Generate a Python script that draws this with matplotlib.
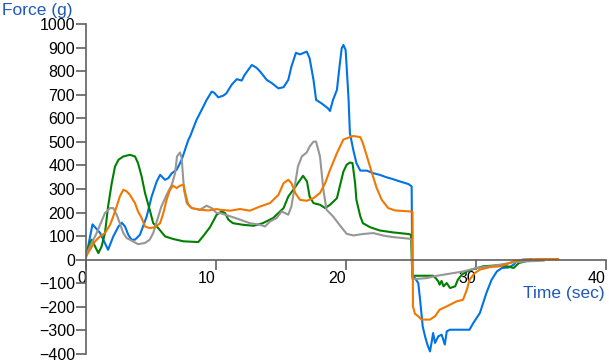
import matplotlib
matplotlib.use('Agg')
import matplotlib.pyplot as plt

plt.rcParams['font.family'] = ['Liberation Sans', 'DejaVu Sans']
plt.rcParams['font.size'] = 11

# trial 1 (blue)
t_blue = [0, 0.5, 1.08, 1.33, 1.7, 2.1, 2.5, 2.75, 3.0, 3.25, 3.5, 3.77, 4.15, 4.67, 5.05,
          5.44, 5.7, 6.08, 6.33, 6.6, 6.97, 7.36, 7.87, 8.0, 8.5, 8.9, 9.28, 9.67, 9.85,
          10.18, 10.56, 10.8, 11.2, 11.6, 11.98, 12.2, 12.75, 13.1, 13.4, 13.9, 14.3, 14.8,
          15.2, 15.56, 15.8, 16.15, 16.46, 16.98, 17.2, 17.5, 17.7, 18.1, 18.6, 18.77, 19.0,
          19.3, 19.5, 19.67, 19.8, 19.97, 20.05, 20.2, 20.3, 20.56, 20.8, 21.1, 21.6, 22.1,
          22.6, 23.1, 23.6, 24.15, 24.8, 25.05, 25.1, 25.3, 25.56, 25.7, 25.9, 26.08, 26.26,
          26.46, 26.6, 26.7, 26.85, 27.1, 27.36, 27.6, 27.75, 28.0, 28.8, 29.5, 29.8, 30.3,
          30.8, 31.2, 31.6, 32.0, 32.5, 32.9, 33.1, 33.6, 34.3]
f_blue = [10, 150, 114, 85, 42, 99, 141, 157, 141, 106, 85, 85, 106, 184, 268,
          332, 360, 339, 346, 367, 381, 424, 508, 522, 593, 636, 678, 713, 709,
          689, 696, 706, 742, 766, 760, 784, 826, 815, 798, 763, 749, 727,
          732, 763, 819, 878, 871, 883, 855, 763, 678, 664, 643, 631, 678,
          720, 819, 897, 911, 890, 819, 678, 537, 466, 410, 378, 378, 367,
          360, 350, 342, 332, 321, 311, -70, -78, -99, -170, -283, -325, -360,
          -389, -346, -311, -353, -325, -318, -360, -304, -297, -297, -297, -268, -226,
          -141, -85, -50, -35, -33, -21, -7, 0, 2]

# trial 2 (green)
t_green = [0, 0.3, 0.44, 0.7, 0.95, 1.2, 1.46, 1.7, 1.98, 2.23, 2.5, 2.87, 3.38, 3.77, 4.0,
           4.28, 4.54, 4.9, 5.17, 5.56, 6.08, 6.7, 7.5, 8.64, 9.0, 9.54, 10.05, 10.44, 10.7,
           10.95, 11.3, 12.1, 12.9, 13.6, 14.4, 15.2, 15.56, 15.95, 16.3, 16.7, 17.0, 17.2,
           17.5, 18.0, 18.4, 18.77, 19.3, 19.8, 20.05, 20.3, 20.5, 20.7, 20.8, 21.1, 21.3,
           21.85, 22.6, 23.6, 24.8, 25.0, 25.1, 26.7, 26.9, 27.1, 27.2, 27.35, 27.5, 27.75,
           28.0, 28.4, 28.6, 28.9, 29.3, 29.8, 30.56, 31.6, 32.4, 32.9, 33.3, 33.8, 34.2]
f_green = [21, 70, 85, 56, 28, 56, 113, 226, 325, 395, 424, 438, 445, 438, 410,
           353, 283, 212, 155, 134, 99, 88, 78, 75, 99, 138, 191, 205, 198,
           170, 155, 148, 144, 155, 177, 219, 268, 297, 325, 356, 332, 268,
           240, 233, 219, 233, 261, 374, 403, 412, 410, 325, 254, 184, 155,
           138, 124, 116, 109, 106, -68, -68, -78, -92, -106, -90, -113, -99,
           -120, -113, -85, -64, -50, -40, -28, -24, -28, -35, -14, -7, 0]

# trial 3 (gray)
t_gray = [0, 0.44, 0.82, 1.08, 1.46, 1.85, 2.1, 2.36, 2.6, 2.87, 3.13, 3.5, 4.0, 4.54, 4.9,
          5.17, 5.44, 5.8, 6.2, 6.6, 6.85, 7.0, 7.23, 7.36, 7.54, 7.75, 8.13, 8.77, 9.28,
          9.67, 10.05, 10.3, 11.1, 11.85, 12.6, 13.4, 13.77, 14.15, 14.67, 15.05, 15.3,
          15.56, 15.8, 16.1, 16.3, 16.6, 16.98, 17.2, 17.5, 17.7, 18.0, 18.26, 18.5, 19.0,
          19.5, 19.8, 20.05, 20.56, 21.3, 22.1, 22.9, 23.6, 24.9, 25.05, 25.1, 25.3, 26.2,
          27.0, 28.0, 29.0, 30.05, 31.1, 31.85, 32.9, 33.9, 35.2]
f_gray = [21, 71, 113, 148, 198, 219, 219, 191, 155, 113, 92, 81, 66, 71, 85,
          113, 162, 226, 275, 318, 367, 438, 455, 431, 297, 240, 219, 212, 229,
          219, 198, 198, 184, 170, 155, 148, 141, 162, 177, 205, 198,
          191, 226, 325, 395, 438, 455, 480, 501, 501, 438, 297, 212, 184,
          148, 127, 110, 103, 109, 113, 102, 96, 89, 85, -80, -82, -78,
          -68, -59, -50, -35, -28, -21, -11, -7, -4]

# trial 4 (orange)
t_orange = [0, 0.3, 0.7, 1.08, 1.46, 1.85, 2.1, 2.36, 2.6, 2.87, 3.13, 3.38, 3.77, 4.0, 4.28,
            4.54, 4.9, 5.3, 5.7, 5.95, 6.2, 6.46, 6.7, 6.97, 7.23, 7.5, 7.7, 7.87, 8.13, 8.77,
            9.4, 10.05, 10.3, 11.1, 11.85, 12.6, 13.4, 14.15, 14.8, 15.2, 15.56, 15.8, 16.1,
            16.46, 16.98, 17.5, 18.0, 18.4, 18.77, 19.3, 19.8, 20.56, 21.1, 21.3, 21.6, 22.0,
            22.36, 22.75, 23.25, 23.77, 24.9, 25.12, 25.15, 25.3, 25.56, 25.8, 26.46, 26.85,
            27.2, 27.75, 28.5, 29.0, 29.3, 29.5, 29.9, 30.3, 31.1, 31.85, 32.4, 32.9, 33.6,
            34.7, 36.3]
f_orange = [14, 42, 78, 99, 113, 148, 184, 226, 268, 297, 290, 275, 240, 205, 177,
            141, 134, 138, 155, 198, 254, 297, 314, 304, 314, 318, 268, 233, 219, 212,
            209, 215, 212, 208, 215, 208, 226, 240, 275, 325, 339, 325, 283,
            254, 250, 261, 283, 325, 381, 452, 510, 525, 520, 494, 440, 367,
            304, 254, 219, 209, 205, 203, -198, -229, -240, -254, -254, -240,
            -212, -198, -177, -170, -127, -85, -57, -42, -31, -28, -18, -7, 0,
            3, 3]

fig = plt.figure(figsize=(6.09, 3.63), dpi=100)
ax = fig.add_axes([86 / 609, 9 / 363, 520 / 609, 330 / 363])

lw = 1.5
ax.plot(t_blue, f_blue, color='#0073E6', lw=lw)
ax.plot(t_green, f_green, color='#008000', lw=lw)
ax.plot(t_gray, f_gray, color='#969696', lw=lw)
ax.plot(t_orange, f_orange, color='#F07800', lw=lw)

ax.set_xlim(0, 40)
ax.set_ylim(-400, 1000)
ax.set_xticks([0, 10, 20, 30, 40])
ax.set_yticks(range(-400, 1001, 100))

for side in ['top', 'right']:
    ax.spines[side].set_visible(False)
ax.spines['bottom'].set_position(('data', 0))
for side in ['left', 'bottom']:
    ax.spines[side].set_color('#606060')
    ax.spines[side].set_linewidth(1.2)
ax.tick_params(axis='both', colors='#606060', width=1.2, length=7, labelcolor='black',
               labelsize=11.5, pad=1)
for lab in ax.get_xticklabels():
    lab.set_horizontalalignment('right')

fig.text(2 / 609, 1 - 11 / 363, 'Force (g)', color='#2058B8', fontsize=12.5,
         ha='left', va='center')
ax.text(39.9, -145, 'Time (sec)', color='#2058B8', fontsize=12.5, ha='right', va='center')

fig.savefig('out.png', dpi=100)
